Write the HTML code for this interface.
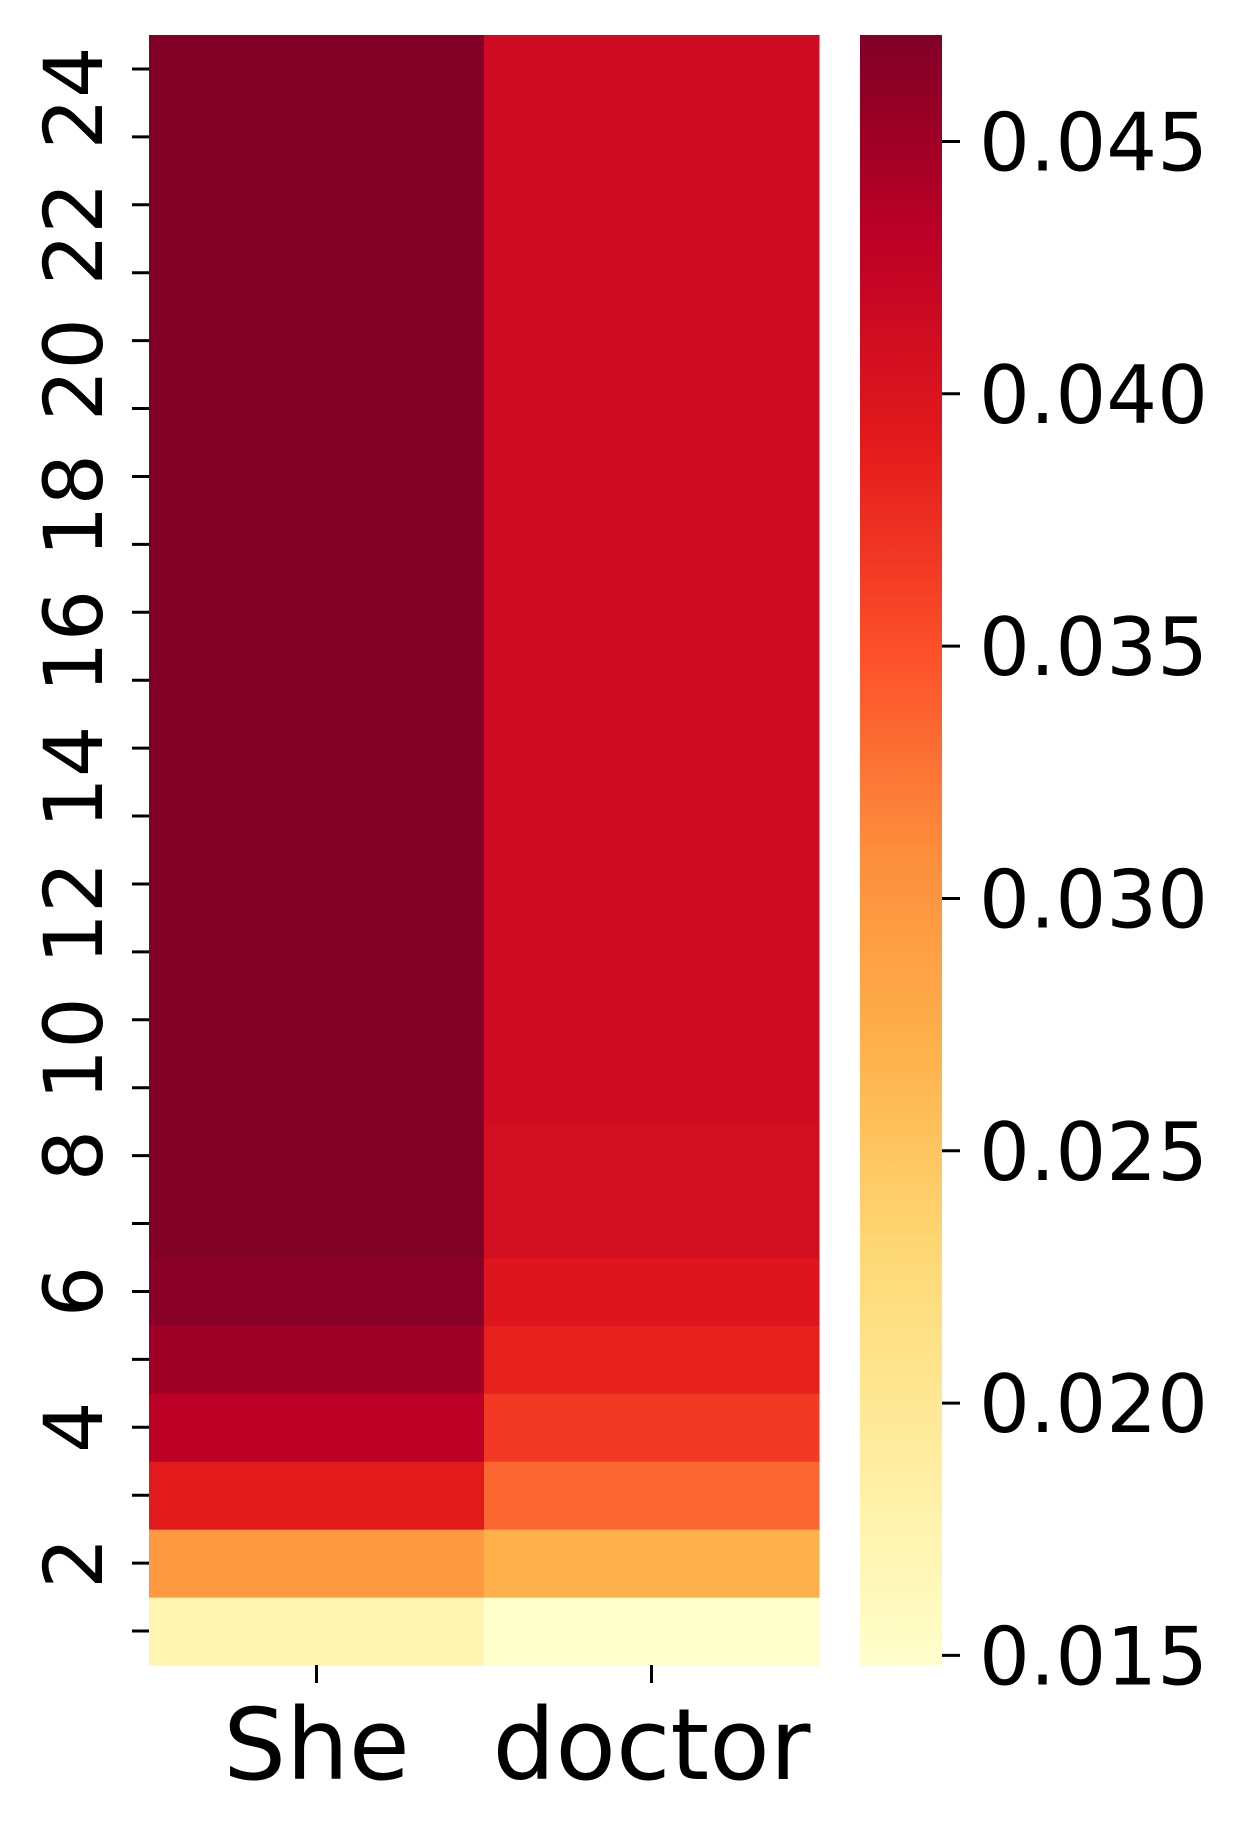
<!DOCTYPE html>
<html><head><meta charset="utf-8"><style>
html,body{margin:0;padding:0;background:#fff;}
svg{display:block;font-family:"DejaVu Sans","Liberation Sans",sans-serif;}
</style></head><body>
<svg id="chart" width="1241" height="1834" viewBox="0 0 1241 1834" xmlns="http://www.w3.org/2000/svg"></svg>
<script>
const columns = ["She", "doctor"];
const layers = [1,2,3,4,5,6,7,8,9,10,11,12,13,14,15,16,17,18,19,20,21,22,23,24];
const sheValues = [0.0172,0.0297,0.0390,0.0431,0.0451,0.0465,0.0471,0.0471,0.0471,0.0471,0.0471,0.0471,0.0471,0.0471,0.0471,0.0471,0.0471,0.0471,0.0471,0.0471,0.0471,0.0471,0.0471,0.0471];
const doctorValues = [0.0148,0.0271,0.0334,0.0366,0.0385,0.0398,0.0408,0.0408,0.0413,0.0413,0.0413,0.0413,0.0413,0.0413,0.0413,0.0413,0.0413,0.0413,0.0413,0.0413,0.0413,0.0413,0.0413,0.0413];
const yTickLabels = ["2","4","6","8","10","12","14","16","18","20","22","24"];
const cbarTicks = [0.015,0.020,0.025,0.030,0.035,0.040,0.045];
const cbarTickLabels = ["0.015","0.020","0.025","0.030","0.035","0.040","0.045"];
const vmin = 0.01481, vmax = 0.04711;

const cmap = ["#ffffcc","#ffeda0","#fed976","#feb24c","#fd8d3c","#fc4e2a","#e31a1c","#bd0026","#800026"];
function hex(c){return [1,3,5].map(i=>parseInt(c.substr(i,2),16));}
function color(v){
  let t=Math.max(0,Math.min(1,(v-vmin)/(vmax-vmin)))*8;
  let i=Math.min(7,Math.floor(t)), f=t-i;
  const a=hex(cmap[i]), b=hex(cmap[i+1]);
  return "rgb("+a.map((x,k)=>Math.round(x+(b[k]-x)*f)).join(",")+")";
}
const NS="http://www.w3.org/2000/svg";
const svg=document.getElementById("chart");
function el(tag,attrs,parent){const e=document.createElementNS(NS,tag);for(const k in attrs)e.setAttribute(k,attrs[k]);(parent||svg).appendChild(e);return e;}

const L=149, R=819, T=35, B=1665;
const colW=(R-L)/columns.length, rowH=(B-T)/layers.length;
const xPos=i=>L+i*colW;
const yPos=layer=>B-layer*rowH;
const series=[sheValues,doctorValues];

const cells=el("g",{});


series.forEach((vals,ci)=>{
  vals.forEach((v,ri)=>{
    const r=el("rect",{x:xPos(ci),y:yPos(layers[ri]),width:colW+0.5,height:rowH+0.5,fill:color(v)},cells);
    
    
  });
});

const yAxis=el("g",{});


layers.forEach(l=>{
  const yc=yPos(l)+rowH/2;
  const t=el("line",{x1:132,x2:149,y1:yc,y2:yc,stroke:"#000","stroke-width":3},yAxis);
  
  
});
yTickLabels.forEach(lab=>{
  const yc=yPos(+lab)+rowH/2+(lab.length-1)*29;
  const tx=el("text",{x:0,y:0,transform:"translate(102,"+yc+") rotate(-90)","text-anchor":"middle","font-size":81,fill:"#000"},yAxis);
  tx.textContent=lab;
  
  
});

const xAxis=el("g",{});


columns.forEach((c,i)=>{
  const xc=xPos(i)+colW/2;
  const t=el("line",{x1:xc,x2:xc,y1:B,y2:B+18,stroke:"#000","stroke-width":3},xAxis);
  
  
  const tx=el("text",{x:xc,y:1779,"text-anchor":"middle","font-size":99,fill:"#000"},xAxis);
  tx.textContent=c;
  
  
});

const CL=860, CR=942;
const defs=el("defs",{});
const grad=el("linearGradient",{id:"cb",x1:0,y1:1,x2:0,y2:0},defs);
cmap.forEach((c,i)=>el("stop",{offset:(i/8),"stop-color":c},grad));
const cb=el("rect",{x:CL,y:T,width:CR-CL,height:B-T,fill:"url(#cb)"});


const cyPos=v=>B-(v-vmin)/(vmax-vmin)*(B-T);
cbarTicks.forEach((v,i)=>{
  const y=cyPos(v);
  const t=el("line",{x1:CR,x2:CR+18,y1:y,y2:y,stroke:"#000","stroke-width":3});
  
  
  const tx=el("text",{x:979,y:y+29,"font-size":80,fill:"#000"});
  tx.textContent=cbarTickLabels[i];
  
  
});
</script>
</body></html>
